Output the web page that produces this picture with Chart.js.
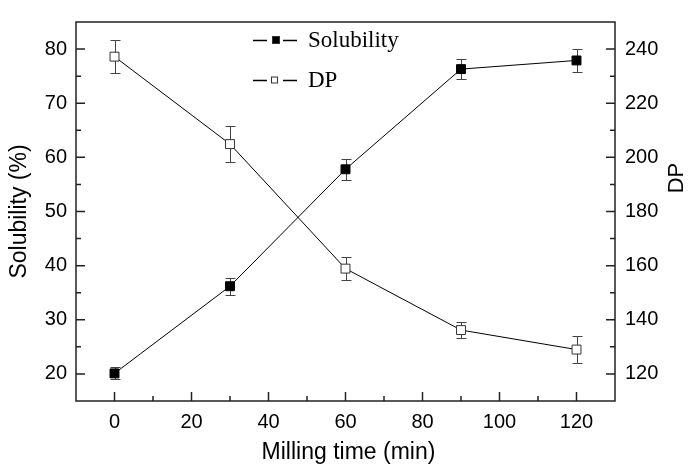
<!DOCTYPE html>
<html>
<head>
<meta charset="utf-8">
<script src="https://cdn.jsdelivr.net/npm/chart.js@4.4.1/dist/chart.umd.min.js"></script>
<style>
  html, body { margin: 0; padding: 0; background: #fff; }
  #wrap { width: 692px; height: 465px; }
</style>
</head>
<body>
<div id="wrap"><canvas id="millingChart" width="692" height="465"></canvas></div>
<script>
// data
const millingTime = [0, 30, 60, 90, 120];
const solubility = [20.1, 36.2, 57.8, 76.3, 77.9];
const solubilityErr = [1.1, 1.6, 1.9, 1.9, 2.1];
const dpValues = [237.2, 204.9, 158.9, 136.2, 129.0];
const dpErr = [6.1, 6.5, 4.2, 3.0, 5.0];

const xTicks = [0, 20, 40, 60, 80, 100, 120];
const leftTicks = [20, 30, 40, 50, 60, 70, 80];
const rightTicks = [120, 140, 160, 180, 200, 220, 240];

const axisColor = '#222';
const tickFont = { family: 'Liberation Sans, Arial, sans-serif', size: 20 };

// error bars behind the markers
const errorBars = {
    id: 'errorBars',
    beforeDatasetsDraw(chart) {
        const ctx = chart.ctx;
        const x = chart.scales.x;
        const sets = [
            { vals: solubility, err: solubilityErr, sc: chart.scales.y },
            { vals: dpValues, err: dpErr, sc: chart.scales.y1 }
        ];
        ctx.save();
        ctx.strokeStyle = '#444';
        ctx.lineWidth = 1;
        sets.forEach(s => {
            s.vals.forEach((v, i) => {
                const px = Math.round(x.getPixelForValue(millingTime[i])) + 0.5;
                const top = Math.round(s.sc.getPixelForValue(v + s.err[i])) + 0.5;
                const bot = Math.round(s.sc.getPixelForValue(v - s.err[i])) + 0.5;
                ctx.beginPath();
                ctx.moveTo(px, top); ctx.lineTo(px, bot);
                ctx.moveTo(px - 5, top); ctx.lineTo(px + 5, top);
                ctx.moveTo(px - 5, bot); ctx.lineTo(px + 5, bot);
                ctx.stroke();
            });
        });
        ctx.restore();
    }
};

// frame, inward ticks, titles and legend
const frame = {
    id: 'frame',
    afterDraw(chart) {
        const ctx = chart.ctx;
        const a = chart.chartArea;
        const x = chart.scales.x, yl = chart.scales.y, yr = chart.scales.y1;
        ctx.save();
        ctx.strokeStyle = axisColor;
        ctx.lineWidth = 1.5;
        ctx.strokeRect(a.left, a.top, a.right - a.left, a.bottom - a.top);

        ctx.beginPath();
        xTicks.forEach((v, i) => {
            const px = x.getPixelForValue(v);
            ctx.moveTo(px, a.bottom); ctx.lineTo(px, a.bottom - 9);
            if (i < xTicks.length - 1) {
                const mx = x.getPixelForValue((v + xTicks[i + 1]) / 2);
                ctx.moveTo(mx, a.bottom); ctx.lineTo(mx, a.bottom - 5);
            }
        });
        leftTicks.forEach((v, i) => {
            const py = yl.getPixelForValue(v);
            ctx.moveTo(a.left, py); ctx.lineTo(a.left + 9, py);
            if (i < leftTicks.length - 1) {
                const my = yl.getPixelForValue((v + leftTicks[i + 1]) / 2);
                ctx.moveTo(a.left, my); ctx.lineTo(a.left + 5, my);
            }
        });
        rightTicks.forEach((v, i) => {
            const py = yr.getPixelForValue(v);
            ctx.moveTo(a.right, py); ctx.lineTo(a.right - 9, py);
            if (i < rightTicks.length - 1) {
                const my = yr.getPixelForValue((v + rightTicks[i + 1]) / 2);
                ctx.moveTo(a.right, my); ctx.lineTo(a.right - 5, my);
            }
        });
        ctx.stroke();

        // axis titles
        ctx.fillStyle = '#000';
        ctx.font = '23px "Liberation Sans", Arial, sans-serif';
        ctx.textAlign = 'center';
        ctx.textBaseline = 'alphabetic';
        ctx.fillText('Milling time (min)', (a.left + a.right) / 2 + 3, 459);

        ctx.save();
        ctx.translate(26, (a.top + a.bottom) / 2);
        ctx.rotate(-Math.PI / 2);
        ctx.fillText('Solubility (%)', 0, 0);
        ctx.restore();

        ctx.save();
        ctx.translate(683, 178);
        ctx.rotate(-Math.PI / 2);
        ctx.font = '22px "Liberation Sans", Arial, sans-serif';
        ctx.fillText('DP', 0, 0);
        ctx.restore();

        // legend: short line, gap, marker, gap, short line
        const rows = [
            { label: 'Solubility', y: 40, fill: '#000', size: 8, cx: 276 },
            { label: 'DP', y: 80, fill: '#fff', size: 7, cx: 274.5 }
        ];
        ctx.font = '23px "Liberation Serif", "Times New Roman", serif';
        ctx.textAlign = 'left';
        ctx.textBaseline = 'middle';
        rows.forEach(r => {
            ctx.strokeStyle = '#000';
            ctx.lineWidth = 1.3;
            ctx.beginPath();
            ctx.moveTo(253, r.y + 0.5); ctx.lineTo(267, r.y + 0.5);
            ctx.moveTo(283, r.y + 0.5); ctx.lineTo(297, r.y + 0.5);
            ctx.stroke();
            ctx.fillStyle = r.fill;
            ctx.fillRect(r.cx - r.size / 2, r.y - r.size / 2, r.size, r.size);
            ctx.strokeStyle = '#333';
            ctx.lineWidth = 1;
            ctx.strokeRect(r.cx - r.size / 2 + 0.5, r.y - r.size / 2 + 0.5, r.size - 1, r.size - 1);
            ctx.fillStyle = '#000';
            ctx.fillText(r.label, 308, r.y + 1);
        });
        ctx.restore();
    }
};

const ctx = document.getElementById('millingChart');

new Chart(ctx, {
    type: 'line',
    data: {
        datasets: [
            {
                label: 'Solubility',
                data: millingTime.map((t, i) => ({ x: t, y: solubility[i] })),
                yAxisID: 'y',
                borderColor: '#000',
                borderWidth: 1,
                pointStyle: 'rect',
                pointRadius: 6.3,
                pointBackgroundColor: '#000',
                pointBorderColor: '#000',
                pointBorderWidth: 1
            },
            {
                label: 'DP',
                data: millingTime.map((t, i) => ({ x: t, y: dpValues[i] })),
                yAxisID: 'y1',
                borderColor: '#000',
                borderWidth: 1,
                pointStyle: 'rect',
                pointRadius: 6.3,
                pointBackgroundColor: '#fff',
                pointBorderColor: '#333',
                pointBorderWidth: 1
            }
        ]
    },
    options: {
        responsive: false,
        animation: false,
        layout: { padding: { top: 5, left: 0, right: 0, bottom: 0 } },
        plugins: {
            legend: { display: false },
            tooltip: { enabled: false }
        },
        scales: {
            x: {
                type: 'linear',
                min: -10,
                max: 130,
                afterBuildTicks: s => { s.ticks = xTicks.map(v => ({ value: v })); },
                afterFit: s => { s.height = 64; },
                grid: { display: false, drawTicks: false },
                border: { display: false },
                ticks: { color: '#000', font: tickFont, padding: 9, maxRotation: 0 }
            },
            y: {
                position: 'left',
                min: 15,
                max: 85,
                afterBuildTicks: s => { s.ticks = leftTicks.map(v => ({ value: v })); },
                afterFit: s => { s.width = 76; },
                grid: { display: false, drawTicks: false },
                border: { display: false },
                ticks: { color: '#000', font: tickFont, padding: 9 }
            },
            y1: {
                position: 'right',
                min: 110,
                max: 250,
                afterBuildTicks: s => { s.ticks = rightTicks.map(v => ({ value: v })); },
                afterFit: s => { s.width = 77; },
                grid: { display: false, drawTicks: false },
                border: { display: false },
                ticks: { color: '#000', font: tickFont, padding: 10 }
            }
        }
    },
    plugins: [errorBars, frame]
});
</script>
</body>
</html>
